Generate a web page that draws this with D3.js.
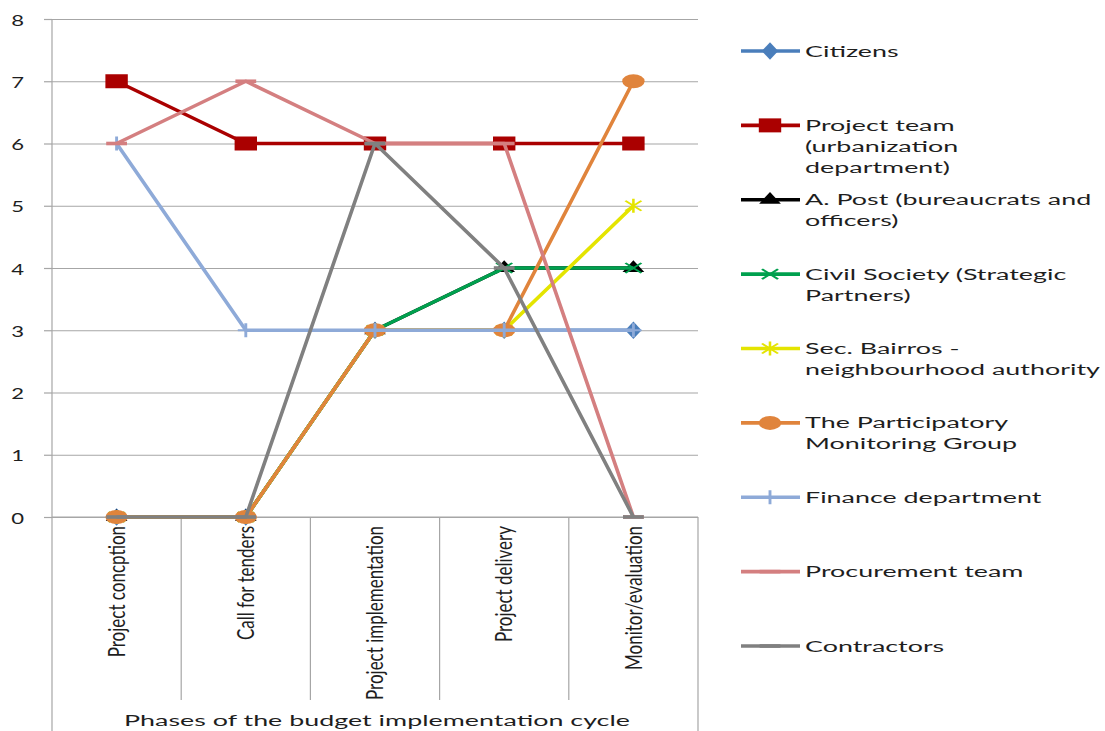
<!DOCTYPE html>
<html>
<head>
<meta charset="utf-8">
<script src="https://cdn.jsdelivr.net/npm/d3@7"></script>
<style>
  html, body { margin: 0; padding: 0; background: #fff; }
  svg { display: block; }
  text { font-family: Lato, "Open Sans", sans-serif; fill: #1e1e1e; }
</style>
</head>
<body>
<svg id="chart" width="1105" height="731"></svg>
<script>
// Phases of the budget cycle (x categories)
const categories = ["Project concption", "Call for tenders", "Project implementation", "Project delivery", "Monitor/evaluation"];
const yTicks = [0, 1, 2, 3, 4, 5, 6, 7, 8];

// Involvement score of each actor per phase
const citizens      = [0, 0, 3, 3, 3];
const projectTeam   = [7, 6, 6, 6, 6];
const aPost         = [0, 0, 3, 4, 4];
const civilSociety  = [0, 0, 3, 4, 4];
const secBairros    = [0, 0, 3, 3, 5];
const monitoring    = [0, 0, 3, 3, 7];
const finance       = [6, 3, 3, 3, 3];
const procurement   = [6, 7, 6, 6, 0];
const contractors   = [0, 0, 6, 4, 0];

const seriesLabels = [
  ["Citizens"],
  ["Project team", "(urbanization", "department)"],
  ["A. Post (bureaucrats and", "officers)"],
  ["Civil Society (Strategic", "Partners)"],
  ["Sec. Bairros -", "neighbourhood authority"],
  ["The Participatory", "Monitoring Group"],
  ["Finance department"],
  ["Procurement team"],
  ["Contractors"]
];
const seriesValues = [citizens, projectTeam, aPost, civilSociety, secBairros, monitoring, finance, procurement, contractors];
const seriesColors = ["#4a7ebb", "#aa0000", "#000000", "#00a04e", "#e4e400", "#e0843c", "#8eaad8", "#d47f80", "#808080"];
const seriesMarkers = ["diamond", "square", "triangle", "cross", "star", "circle", "plus", "dash", "dash"];

const series = seriesValues.map((values, i) => ({
  label: seriesLabels[i], values, color: seriesColors[i], marker: seriesMarkers[i]
}));

const svg = d3.select("#chart");
const plot = { left: 52, right: 698, top: 19, bottom: 517 };
const markStretch = 1.6;    // horizontal stretch applied to markers
const tickStretch = 1.38;   // horizontal stretch for axis tick text
const labelStretch = 1.68;  // horizontal stretch for legend and axis title

const x = d3.scalePoint().domain(categories).range([plot.left, plot.right]).padding(0.5);
const xBand = d3.scaleBand().domain(categories).range([plot.left, plot.right]);
const y = d3.scaleLinear().domain([0, 8]).range([plot.bottom, plot.top]);

// Gridlines
svg.append("g")
  .attr("transform", `translate(${plot.left},0)`)
  .call(d3.axisLeft(y).tickValues(yTicks).tickSize(-(plot.right - plot.left)).tickFormat(""))
  .call(g => g.select(".domain").remove())
  .call(g => g.selectAll("line").attr("stroke", "#a6a6a6").attr("stroke-width", 1.2));

// Y axis with outer ticks and labels
const yAxis = svg.append("g")
  .attr("transform", `translate(${plot.left},0)`)
  .call(d3.axisLeft(y).tickValues(yTicks).tickSize(8).tickPadding(0).tickFormat(d3.format("d")));
yAxis.select(".domain").remove();
yAxis.selectAll("line").attr("stroke", "#a6a6a6").attr("stroke-width", 1.2);
yAxis.selectAll("text")
  .attr("x", null).attr("dy", null)
  .attr("text-anchor", "end")
  .style("font-size", "16px")
  .attr("transform", "translate(-28,6) scale(" + tickStretch + ",1)");

// Axis frame: vertical y line down to the bottom and the category box
const frame = svg.append("g").attr("stroke", "#a6a6a6").attr("stroke-width", 1.2);
frame.append("line").attr("x1", plot.left).attr("x2", plot.left).attr("y1", y(8)).attr("y2", 731);
frame.append("line").attr("x1", plot.right).attr("x2", plot.right).attr("y1", y(0)).attr("y2", 731);
frame.append("line").attr("x1", plot.left).attr("x2", plot.right).attr("y1", y(0)).attr("y2", y(0));
frame.selectAll(".sep").data(categories.slice(1)).join("line")
  .attr("x1", d => xBand(d)).attr("x2", d => xBand(d))
  .attr("y1", y(0)).attr("y2", 700);

// Category labels (rotated)
svg.append("g").selectAll("text").data(categories).join("text")
  .attr("transform", d => `translate(${x(d)},${y(0) + 9}) scale(${tickStretch},1) rotate(-90)`)
  .attr("text-anchor", "end")
  .attr("dy", "0.35em")
  .style("font-size", "17px")
  .text(d => d);

// X axis title
svg.append("text")
  .attr("transform", `translate(${(plot.left + plot.right) / 2 + 2},726) scale(${labelStretch},1)`)
  .attr("text-anchor", "middle")
  .style("font-size", "16px")
  .text("Phases of the budget implementation cycle");

// Marker drawing
function drawMarker(g, type, color) {
  const m = g.append("g").attr("transform", `scale(${markStretch},1)`);
  switch (type) {
    case "diamond":
      m.append("path").attr("d", d3.symbol(d3.symbolDiamond, 90)()).attr("fill", color); break;
    case "square":
      m.append("rect").attr("x", -7).attr("y", -7).attr("width", 14).attr("height", 14).attr("fill", color); break;
    case "triangle":
      m.append("path").attr("d", d3.symbol(d3.symbolTriangle, 80)()).attr("fill", color); break;
    case "circle":
      m.append("circle").attr("r", 7).attr("fill", color); break;
    case "cross":
      m.append("path").attr("d", "M-5,-5L5,5M-5,5L5,-5").attr("stroke", color).attr("stroke-width", 1.6).attr("fill", "none"); break;
    case "star":
      m.append("path").attr("d", "M-5,-5L5,5M-5,5L5,-5M0,-7L0,7").attr("stroke", color).attr("stroke-width", 1.6).attr("fill", "none"); break;
    case "plus":
      m.append("path").attr("d", "M-5,0L5,0M0,-7L0,7").attr("stroke", color).attr("stroke-width", 1.8).attr("fill", "none"); break;
    case "dash":
      m.append("rect").attr("x", -6.5).attr("y", -1.8).attr("width", 13).attr("height", 3.6).attr("fill", color); break;
  }
}

// Series lines and markers
const line = d3.line().x((d, i) => x(categories[i])).y(d => y(d));
series.forEach(s => {
  const g = svg.append("g");
  g.append("path").datum(s.values)
    .attr("d", line)
    .attr("fill", "none")
    .attr("stroke", s.color)
    .attr("stroke-width", 3.6)
    .attr("stroke-linejoin", "round");
  s.values.forEach((v, i) => {
    const mg = g.append("g").attr("transform", `translate(${x(categories[i])},${y(v)})`);
    drawMarker(mg, s.marker, s.color);
  });
});

// Legend
const legend = svg.append("g");
const legendY = d3.scalePoint().domain(d3.range(series.length)).range([51, 646]);
series.forEach((s, i) => {
  const g = legend.append("g").attr("transform", `translate(0,${legendY(i)})`);
  g.append("line").attr("x1", 741).attr("x2", 800).attr("y1", 0).attr("y2", 0)
    .attr("stroke", s.color).attr("stroke-width", 3.6);
  const mg = g.append("g").attr("transform", "translate(770,0)");
  drawMarker(mg, s.marker, s.color);
  s.label.forEach((ln, j) => {
    g.append("text")
      .attr("transform", `translate(805,${5.5 + j * 21}) scale(${labelStretch},1)`)
      .style("font-size", "16px")
      .text(ln);
  });
});
</script>
</body>
</html>
